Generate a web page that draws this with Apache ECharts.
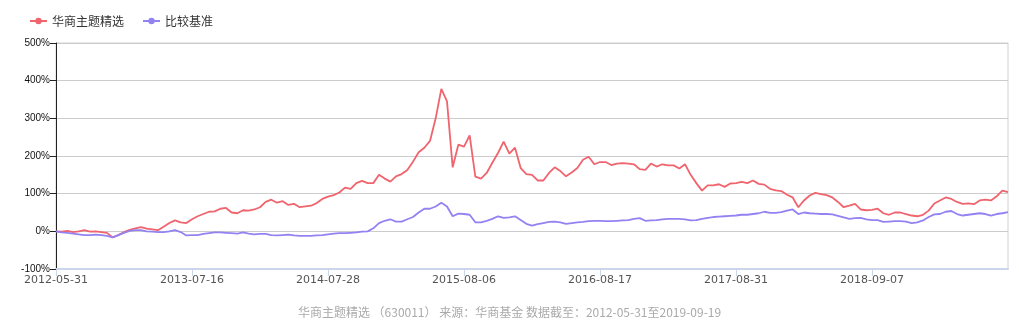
<!DOCTYPE html>
<html>
<head>
<meta charset="utf-8">
<script src="https://cdn.jsdelivr.net/npm/echarts@6/dist/echarts.min.js"></script>
<style>
html,body{margin:0;padding:0;background:#fff;}
#chart{width:1019px;height:329px;}
</style>
</head>
<body>
<div id="chart"></div>
<script>
const seriesNames = ['华商主题精选', '比较基准'];
const tickLabels = ['2012-05-31','2013-07-16','2014-07-28','2015-08-06','2016-08-17','2017-08-31','2018-09-07'];
const endDate = '2019-09-19';
const subtitle = '华商主题精选 （630011） 来源：华商基金 数据截至：2012-05-31至2019-09-19';
const yTicks = [-100, 0, 100, 200, 300, 400, 500];

const fundValues = [
  0, -1, 1, -2, 0, 3, -1, 0, -2, -4,
  -16, -10, -2, 4, 8, 11, 7, 5, 3, 12,
  22, 29, 24, 22, 32, 40, 46, 52, 53, 60,
  62, 50, 48, 56, 55, 58, 64, 78, 84, 76,
  80, 70, 73, 64, 66, 68, 75, 86, 92, 96,
  103, 116, 113, 128, 134, 128, 128, 150, 140, 132,
  146, 152, 163, 185, 210, 222, 240, 300, 378, 345,
  170, 230, 225, 255, 145, 140, 155, 182, 208, 238,
  206, 222, 168, 152, 150, 135, 135, 155, 170, 160,
  146, 156, 168, 190, 198, 178, 184, 184, 176, 180,
  181, 180, 178, 165, 163, 180, 172, 178, 175, 175,
  167, 178, 150, 128, 108, 122, 122, 125, 118, 127,
  128, 131, 128, 135, 126, 124, 113, 109, 107, 97,
  90, 64, 82, 95, 102, 99, 96, 90, 78, 64,
  68, 73, 58, 56, 57, 60, 48, 44, 50, 50,
  46, 42, 40, 44, 55, 74, 82, 90, 86, 78,
  73, 74, 72, 82, 84, 82, 93, 108, 104
];

const benchValues = [
  0, -3, -4, -6, -8, -10, -10, -9, -10, -12,
  -16, -10, -4, 1, 3, 3, 0, -1, -2, -2,
  0, 3, -2, -11, -10, -10, -7, -5, -3, -3,
  -4, -5, -6, -3, -6, -8, -7, -7, -10, -11,
  -10, -9, -11, -12, -12, -12, -11, -10, -8, -6,
  -5, -5, -4, -3, -1, 0, 8, 22, 28, 32,
  26, 26, 32, 38, 50, 60, 60, 66, 76, 66,
  40, 47, 46, 44, 24, 24, 28, 33, 40, 36,
  37, 40, 30, 20, 15, 19, 22, 25, 26, 24,
  20, 22, 24, 25, 27, 28, 28, 27, 27, 28,
  29, 30, 33, 35, 28, 29, 30, 32, 33, 33,
  33, 32, 29, 30, 33, 36, 38, 39, 40, 41,
  42, 44, 44, 46, 48, 52, 49, 49, 51, 55,
  58, 46, 50, 48, 47, 46, 46, 45, 41, 37,
  33, 35, 36, 32, 30, 30, 25, 26, 27, 27,
  26, 22, 24, 29, 38, 45, 46, 52, 54, 46,
  42, 44, 46, 48, 46, 42, 46, 48, 51
];

const step = 24;
const categories = fundValues.map(function (v, i) {
  if (i === fundValues.length - 1) return endDate;
  if (i % step === 0 && tickLabels[i / step]) return tickLabels[i / step];
  return '';
});
const showTick = function (idx) { return idx % step === 0 && idx < fundValues.length - 1; };

const chart = echarts.init(document.getElementById('chart'));
chart.setOption({
  animation: false,
  textStyle: { fontFamily: '"Noto Sans CJK SC", "Noto Sans", sans-serif' },
  color: ['#f0646e', '#9382f2'],
  title: {
    text: subtitle,
    left: 'center',
    bottom: 6,
    textStyle: { color: '#aaaaaa', fontSize: 12, fontWeight: 'normal', fontFamily: '"Noto Sans CJK SC", sans-serif' }
  },
  legend: {
    left: 24,
    top: 10,
    itemWidth: 17,
    itemHeight: 8,
    itemGap: 18,
    textStyle: { color: '#333', fontSize: 12 },
    data: seriesNames
  },
  grid: {
    left: 56, right: 11, top: 43, bottom: 60,
    show: true, borderColor: '#d0d0d0', borderWidth: 1
  },
  xAxis: {
    type: 'category',
    boundaryGap: false,
    data: categories,
    axisLine: { onZero: false, lineStyle: { color: '#ccd6eb', width: 2 } },
    axisTick: { show: true, interval: showTick, length: 7, lineStyle: { color: '#ccd6eb' } },
    axisLabel: { interval: showTick, color: '#555', fontSize: 11, margin: 6, fontFamily: 'DejaVu Sans, sans-serif' },
    splitLine: { show: false }
  },
  yAxis: {
    type: 'value',
    min: yTicks[0],
    max: yTicks[yTicks.length - 1],
    interval: 100,
    axisLine: { show: true, lineStyle: { color: '#222', width: 1 } },
    axisTick: { show: true, length: 6, lineStyle: { color: '#222' } },
    axisLabel: { formatter: '{value}%', color: '#111', fontSize: 10, margin: 6, fontFamily: 'Liberation Sans, sans-serif' },
    splitLine: { lineStyle: { color: '#cccccc', width: 1 } }
  },
  series: [
    {
      name: seriesNames[0], type: 'line', data: fundValues,
      symbol: 'circle', showSymbol: false, symbolSize: 8,
      lineStyle: { width: 1.8 }
    },
    {
      name: seriesNames[1], type: 'line', data: benchValues,
      symbol: 'circle', showSymbol: false, symbolSize: 8,
      lineStyle: { width: 1.8 }
    }
  ]
});
</script>
</body>
</html>
